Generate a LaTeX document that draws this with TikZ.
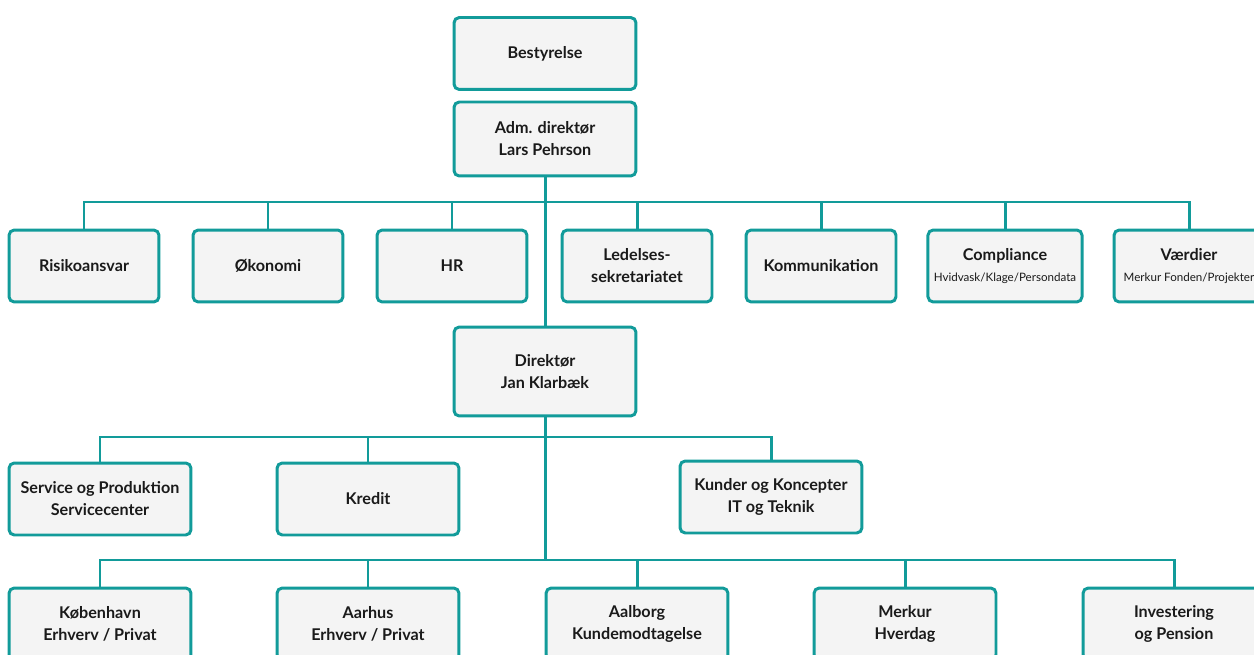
\documentclass[tikz,border=0pt]{standalone}
\usepackage{fontspec}
\setmainfont{Lato}
\usetikzlibrary{positioning, calc}
\definecolor{linecolor}{RGB}{18, 155, 154}
\definecolor{boxcolor}{RGB}{244, 244, 244}
\definecolor{textcolor}{RGB}{26, 26, 26}
\newcommand{\subtxt}[1]{\\[-1pt]{\fontsize{6.6}{8}\mdseries #1}}

\begin{document}
\begin{tikzpicture}[
    x=0.02cm, y=-0.02cm,
    unit/.style={rectangle, rounded corners=3pt, draw=linecolor, line width=1.7pt, fill=boxcolor,
                 minimum width=3cm, minimum height=1.44cm, align=center, text=textcolor,
                 font=\fontsize{9.2}{12.5}\selectfont\bfseries},
    wide/.style={unit, minimum width=3.64cm},
    tall/.style={wide, minimum height=1.78cm},
    link/.style={draw=linecolor, line width=1.7pt}
]
\useasboundingbox (0,0) rectangle (1254,655);

% Top
\node[wide] (board) at (545,53.5) {Bestyrelse};
\node[wide, minimum height=1.48cm] (ceo) at (545,139) {Adm. direktør\\Lars Pehrson};

% Staff functions
\node[unit] (risk) at (84,266) {Risikoansvar};
\node[unit] (oek) at (268,266) {Økonomi};
\node[unit] (hr) at (452,266) {HR};
\node[unit] (led) at (637,266) {Ledelses-\\sekretariatet};
\node[unit] (kom) at (821,266) {Kommunikation};
\node[unit] (comp) at (1005,266) {Compliance\subtxt{Hvidvask/Klage/Persondata}};
\node[unit] (vaerd) at (1189,266) {Værdier\subtxt{Merkur Fonden/Projekter}};

% Director
\node[tall] (dir) at (545,371.5) {Direktør\\Jan Klarbæk};

% Second row
\node[wide] (serv) at (100,499) {Service og Produktion\\Servicecenter};
\node[wide] (kred) at (368,499) {Kredit};
\node[wide] (kund) at (771,497) {Kunder og Koncepter\\IT og Teknik};

% Regions
\node[wide] (kbh) at (100,624) {København\\Erhverv / Privat};
\node[wide] (aar) at (368,624) {Aarhus\\Erhverv / Privat};
\node[wide] (aal) at (637,624) {Aalborg\\Kundemodtagelse};
\node[wide] (merk) at (905,624) {Merkur\\Hverdag};
\node[wide] (inv) at (1174,624) {Investering\\og Pension};

% Bus lines
\coordinate (bus1) at (545,202);
\coordinate (bus2) at (545,437);
\coordinate (bus3) at (545,560);

% Connectors
\draw[link] (ceo) -- (dir);
\draw[link] (dir) -- (bus3);
\foreach \n in {risk,oek,hr,led,kom,comp,vaerd}
    \draw[link] (bus1) -| (\n);
\foreach \n in {serv,kred,kund}
    \draw[link] (bus2) -| (\n);
\foreach \n in {kbh,aar,aal,merk,inv}
    \draw[link] (bus3) -| (\n);

\end{tikzpicture}
\end{document}
